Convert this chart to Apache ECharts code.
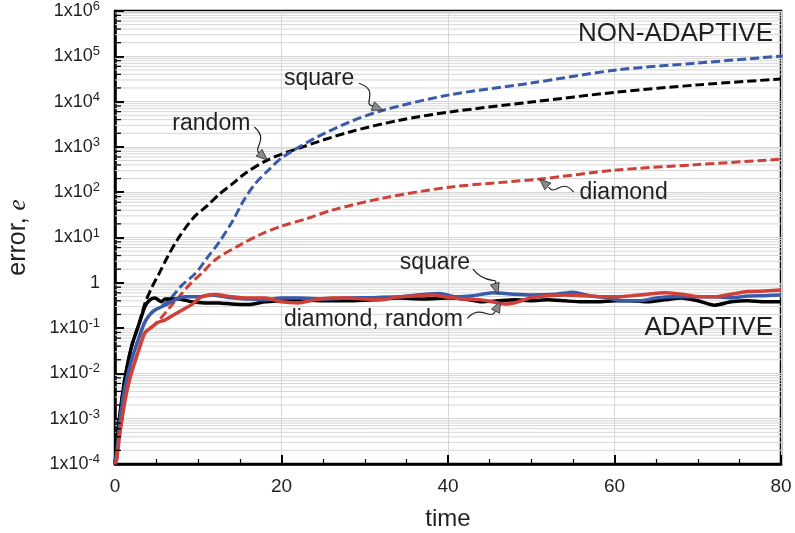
<!DOCTYPE html>
<html>
<head>
<meta charset="utf-8">
<script src="https://cdn.jsdelivr.net/npm/echarts@6/dist/echarts.min.js"></script>
<style>
html, body { margin: 0; padding: 0; background: #fff; }
#main { width: 795px; height: 533px; }
</style>
</head>
<body>
<div id="main"></div>
<script>
// ---- data ----
var xTicks = [0, 20, 40, 60, 80];
var yExponents = [-4, -3, -2, -1, 0, 1, 2, 3, 4, 5, 6];

// ADAPTIVE (solid)
var tRandomA = [0, 0.25, 0.6, 1.2, 2.0, 2.9, 3.6, 4.2, 4.8, 5.6, 6.0, 7.7, 9.2, 10.8, 12.5, 14, 16, 18, 20, 22, 25, 28, 31, 34, 37, 40, 42, 44, 46, 48, 50, 52, 54, 56, 58, 60, 62, 64, 66, 68, 70, 72, 74, 76, 78, 80];
var eRandomA = [1e-4, 3.2e-4, 1.3e-3, 7.9e-3, 0.04, 0.126, 0.30, 0.42, 0.46, 0.38, 0.44, 0.44, 0.38, 0.36, 0.36, 0.34, 0.33, 0.38, 0.40, 0.42, 0.40, 0.40, 0.42, 0.46, 0.44, 0.46, 0.44, 0.38, 0.40, 0.42, 0.40, 0.42, 0.40, 0.38, 0.38, 0.40, 0.40, 0.38, 0.42, 0.46, 0.40, 0.32, 0.38, 0.40, 0.38, 0.38];

var tSquareA = [0, 0.3, 0.7, 1.2, 2.0, 2.8, 3.5, 4.1, 4.8, 6.0, 7.2, 8.4, 10, 11.6, 14, 16, 18, 20, 22, 25, 28, 31, 34, 37, 39, 41, 43, 45.4, 48, 50, 53, 55, 57, 59, 61, 63, 65, 67, 70, 72, 74, 76, 78, 80];
var eSquareA = [1e-4, 2.5e-4, 1.3e-3, 5e-3, 0.02, 0.056, 0.126, 0.19, 0.25, 0.32, 0.42, 0.49, 0.49, 0.54, 0.47, 0.44, 0.42, 0.46, 0.46, 0.44, 0.46, 0.47, 0.49, 0.55, 0.58, 0.49, 0.52, 0.60, 0.56, 0.54, 0.56, 0.62, 0.52, 0.47, 0.40, 0.40, 0.46, 0.49, 0.49, 0.49, 0.47, 0.51, 0.52, 0.54];

var tDiamondA = [0, 0.2, 0.6, 1.2, 1.8, 2.9, 3.6, 4.4, 5.2, 6.0, 7.7, 9.2, 10.4, 12, 14, 16, 18, 20, 22, 24, 26, 28, 30, 32, 34, 36, 38, 40, 42, 44, 46, 47, 48, 50, 52, 54, 56, 58, 60, 62, 64, 66, 68, 70, 72, 74, 76, 78, 80];
var eDiamondA = [1e-4, 1.26e-4, 5e-4, 2.5e-3, 7.9e-3, 0.035, 0.079, 0.105, 0.135, 0.15, 0.23, 0.33, 0.49, 0.55, 0.49, 0.46, 0.46, 0.38, 0.36, 0.42, 0.46, 0.46, 0.44, 0.42, 0.49, 0.51, 0.54, 0.48, 0.44, 0.42, 0.36, 0.34, 0.36, 0.47, 0.52, 0.54, 0.52, 0.50, 0.49, 0.52, 0.56, 0.60, 0.56, 0.50, 0.49, 0.56, 0.64, 0.66, 0.69];

// NON-ADAPTIVE (dashed)
var tRandomN = [0, 0.25, 0.6, 1.2, 2.0, 2.9, 3.6, 4.45, 5.4, 6.3, 7.45, 9.4, 11.05, 12.6, 14.2, 15.5, 18.3, 22.2, 28.2, 34.2, 40.2, 50, 60.3, 70, 80];
var eRandomN = [1e-4, 3.2e-4, 1.3e-3, 7.9e-3, 0.04, 0.126, 0.355, 0.81, 1.74, 3.7, 8.7, 27, 50, 93, 158, 250, 513, 955, 2140, 3890, 5890, 9770, 16200, 23400, 31600];

var tSquareN = [0, 0.3, 0.7, 1.2, 2.0, 2.8, 3.5, 4.1, 4.8, 5.6, 6.85, 8.05, 9.4, 10.1, 11.05, 12.6, 14.2, 15.4, 16.8, 18.5, 20.2, 24.3, 28.2, 32.2, 40.2, 50, 60.3, 70, 80.2];
var eSquareN = [1e-4, 2.5e-4, 1.3e-3, 5e-3, 0.02, 0.056, 0.126, 0.19, 0.25, 0.30, 0.49, 0.89, 1.45, 2.0, 3.5, 8.3, 24.5, 63, 151, 316, 603, 1660, 3550, 6460, 14100, 25700, 50100, 70800, 102000];

var tDiamondN = [0, 0.2, 0.6, 1.2, 1.8, 2.9, 3.6, 4.4, 5.3, 6.5, 7.7, 8.9, 10.45, 12.2, 15.0, 17.4, 20, 23, 26.2, 32.2, 40.2, 51, 60.3, 70, 80.2];
var eDiamondN = [1e-4, 1.26e-4, 5e-4, 2.5e-3, 7.9e-3, 0.035, 0.079, 0.105, 0.15, 0.275, 0.49, 0.89, 1.66, 3.4, 6.8, 11.5, 17.8, 26, 40.7, 74, 129, 195, 309, 407, 537];

var BLUE = '#3a5ba9';
var RED = '#cf4038';
var TXT = '#231f20';

function pairs(ts, vs) {
    return ts.map(function (t, i) { return [t, vs[i]]; });
}

// log minor positions 2..9 in every decade
var minorGrid = [];
var minorTicks = [];
for (var d = -4; d < 6; d++) {
    for (var k = 2; k <= 9; k++) {
        minorGrid.push([0, k * Math.pow(10, d)]);
        if (k % 2 == 0) minorTicks.push([0, k * Math.pow(10, d)]);
    }
}

var chart = echarts.init(document.getElementById('main'));

function lineSeries(name, data, color, dashed, z) {
    return {
        name: name,
        type: 'line',
        data: data,
        showSymbol: false,
        smooth: dashed ? 0.3 : 0.2,
        z: z,
        lineStyle: {
            color: color,
            width: dashed ? 3 : 3.5,
            type: dashed ? [9, 4] : 'solid'
        }
    };
}

var option = {
    animation: false,
    backgroundColor: '#fff',
    grid: {
        left: 115, right: 14, top: 11, bottom: 69,
        outerBoundsMode: 'none',
        containLabel: false,
        show: true, borderColor: '#000', borderWidth: 2.5, backgroundColor: '#fff'
    },
    xAxis: {
        type: 'value',
        min: 0, max: 80, interval: 20,
        name: 'time',
        nameLocation: 'middle',
        nameGap: 43,
        nameTextStyle: { fontSize: 24, color: TXT, fontFamily: 'Liberation Sans' },
        axisLine: { lineStyle: { color: '#000', width: 2.5 } },
        axisTick: { inside: true, length: 9, lineStyle: { color: '#000', width: 2 } },
        minorTick: { show: true, splitNumber: 4, length: 5, lineStyle: { color: '#000', width: 1.2 } },
        axisLabel: {
            fontSize: 19, color: TXT, margin: 13, fontFamily: 'Liberation Sans',
            formatter: function (v) { return xTicks.indexOf(v) >= 0 ? String(v) : ''; }
        },
        splitLine: { show: true, lineStyle: { color: '#d6d6d6', width: 1 } }
    },
    yAxis: {
        type: 'log',
        logBase: 10,
        min: 1e-4, max: 1e6,
        name: 'error, {it|e}',
        nameLocation: 'middle',
        nameGap: 84,
        nameRotate: 90,
        nameTextStyle: {
            fontSize: 25, color: TXT, fontFamily: 'Liberation Sans',
            rich: { it: { fontSize: 25, fontStyle: 'italic', fontFamily: 'Liberation Serif', color: TXT } }
        },
        axisLine: { lineStyle: { color: '#000', width: 2.5 } },
        axisTick: { inside: true, length: 9, lineStyle: { color: '#000', width: 2 } },
        axisLabel: {
            fontSize: 18, color: TXT, margin: 15, fontFamily: 'Liberation Sans',
            formatter: function (v) {
                var e = Math.round(Math.log10(v));
                if (yExponents.indexOf(e) < 0) return '';
                if (e === 0) return '1';
                return '1x10{sup|' + e + '}';
            },
            rich: {
                sup: { fontSize: 13, color: TXT, fontFamily: 'Liberation Sans', verticalAlign: 'bottom', padding: [0, 0, 9, 0] }
            }
        },
        splitLine: { show: true, lineStyle: { color: '#d6d6d6', width: 1 } }
    },
    series: [
        {
            type: 'custom',
            silent: true,
            z: 1,
            data: minorGrid,
            renderItem: function (params, api) {
                var cs = params.coordSys;
                var y = api.coord([0, api.value(1)])[1];
                return {
                    type: 'line',
                    shape: { x1: cs.x, y1: y, x2: cs.x + cs.width, y2: y },
                    style: { stroke: '#d6d6d6', lineWidth: 1 }
                };
            }
        },
        lineSeries('random', pairs(tRandomN, eRandomN), '#000', true, 3),
        lineSeries('square', pairs(tSquareN, eSquareN), BLUE, true, 3),
        lineSeries('diamond', pairs(tDiamondN, eDiamondN), RED, true, 3),
        lineSeries('random adaptive', pairs(tRandomA, eRandomA), '#000', false, 4),
        lineSeries('square adaptive', pairs(tSquareA, eSquareA), BLUE, false, 4),
        lineSeries('diamond adaptive', pairs(tDiamondA, eDiamondA), RED, false, 4),
        {
            type: 'custom',
            silent: true,
            z: 6,
            data: minorTicks,
            renderItem: function (params, api) {
                var cs = params.coordSys;
                var y = api.coord([0, api.value(1)])[1];
                return {
                    type: 'line',
                    shape: { x1: cs.x, y1: y, x2: cs.x + 6, y2: y },
                    style: { stroke: '#000', lineWidth: 1.3 }
                };
            }
        }
    ]
};
chart.setOption(option);

// annotation arrows: tip in data coords, other points in pixel offsets from the tip
var notes = [
    { text: 'square', tip: [32.2, 6460], label: [-64, -32], s: [-24, -27], c1: [-2, -19], c2: [-22, -6], b: [-10, -4] },
    { text: 'random', tip: [18.3, 513], label: [-56, -36], s: [-13, -33], c1: [2, -20], c2: [-15, -12], b: [-8, -7] },
    { text: 'diamond', tip: [51, 195], label: [84, 14], s: [34, 13], c1: [22, -2], c2: [16, 18], b: [9, 8] },
    { text: 'square', tip: [46, 0.56], label: [-63, -32], s: [-25, -25], c1: [-12, -8], c2: [2, -18], b: [-3, -10] },
    { text: 'diamond, random', tip: [46.3, 0.39], label: [-127, 18], s: [-33, 17], c1: [-20, 2], c2: [-10, 20], b: [-5, 10] }
];

var graphics = [];
notes.forEach(function (n) {
    var p = chart.convertToPixel({ gridIndex: 0 }, n.tip);
    var tx = p[0], ty = p[1];
    graphics.push({
        type: 'text', z: 20,
        style: { text: n.text, x: tx + n.label[0], y: ty + n.label[1], align: 'center', verticalAlign: 'middle',
                 fontSize: 23, fill: TXT, fontFamily: 'Liberation Sans' }
    });
    graphics.push({
        type: 'bezierCurve', z: 20,
        shape: { x1: tx + n.s[0], y1: ty + n.s[1], cpx1: tx + n.c1[0], cpy1: ty + n.c1[1],
                 cpx2: tx + n.c2[0], cpy2: ty + n.c2[1], x2: tx + n.b[0], y2: ty + n.b[1] },
        style: { stroke: '#222', lineWidth: 1.2, fill: null }
    });
    var dx = -n.b[0], dy = -n.b[1];
    var len = Math.sqrt(dx * dx + dy * dy);
    var ux = dx / len, uy = dy / len;
    var bx = tx - ux * 11, by = ty - uy * 11;
    graphics.push({
        type: 'polygon', z: 21,
        shape: { points: [[tx, ty], [bx - uy * 4.5, by + ux * 4.5], [bx + uy * 4.5, by - ux * 4.5]] },
        style: { fill: '#8a8a8a', stroke: '#222', lineWidth: 0.8 }
    });
});
graphics.push({
    type: 'text', z: 20, right: 22, top: 21,
    style: { text: 'NON-ADAPTIVE', fontSize: 26, fill: TXT, fontFamily: 'Liberation Sans' }
});
graphics.push({
    type: 'text', z: 20, right: 22, top: 315,
    style: { text: 'ADAPTIVE', fontSize: 26, fill: TXT, fontFamily: 'Liberation Sans' }
});
chart.setOption({ graphic: graphics });
</script>
</body>
</html>
